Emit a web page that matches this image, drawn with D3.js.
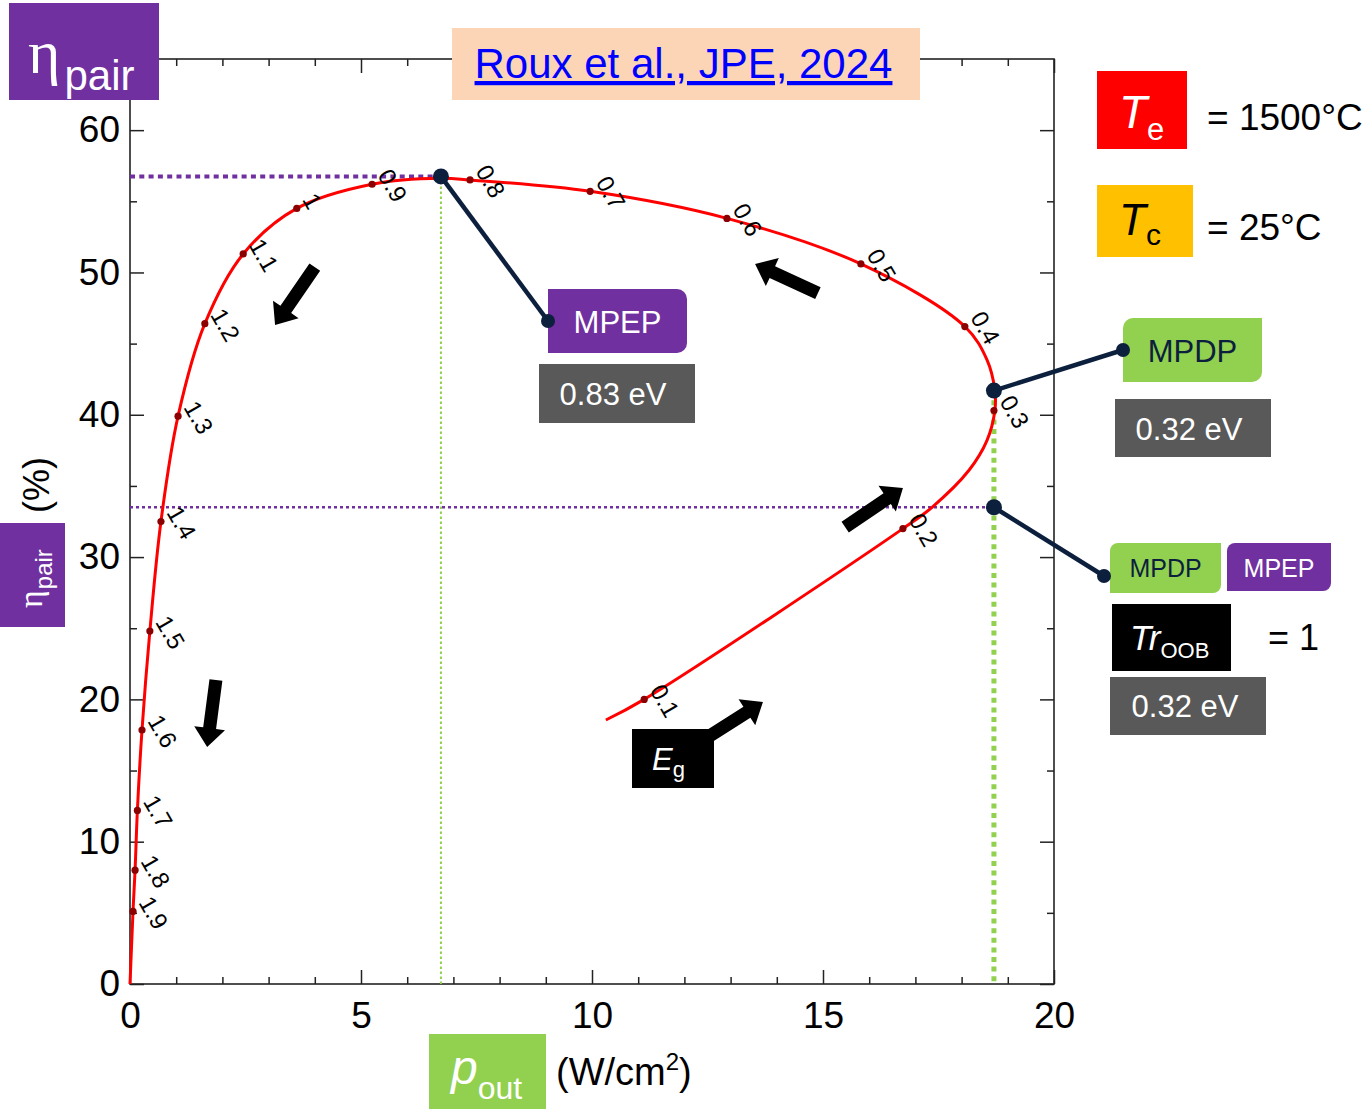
<!DOCTYPE html>
<html>
<head>
<meta charset="utf-8">
<script src="https://cdn.jsdelivr.net/npm/d3@7"></script>
<style>
  body { margin: 0; background: #fff; }
  svg { display: block; }
</style>
</head>
<body>
<svg id="chart" width="1368" height="1109"></svg>
<script>
// ---- data -------------------------------------------------------------
// band-gap energies (eV) marked along the curve, with their output power
// density (W/cm2) and pair efficiency (%)
const egLabels = ["1.9","1.8","1.7","1.6","1.5","1.4","1.3","1.2","1.1","1","0.9",
                  "0.8","0.7","0.6","0.5","0.4","0.3","0.2","0.1"];
const egPout = [0.065,0.11,0.16,0.26,0.43,0.67,1.04,1.62,2.45,3.61,5.24,
                7.36,9.96,12.92,15.82,18.07,18.70,16.73,11.13];
const egEta  = [5.1,8.0,12.2,17.85,24.8,32.5,39.9,46.4,51.3,54.5,56.2,
                56.5,55.7,53.8,50.6,46.2,40.3,32.0,20.0];

// full trace of the curve, from large Eg (origin) down to the smallest Eg
const curvePout = [0,0.03,0.065,0.11,0.16,0.26,0.43,0.67,1.04,1.62,2.45,3.61,5.24,
                   6.73,7.36,9.96,12.92,15.82,18.07,18.55,18.72,18.72,18.55,18.16,17.36,
                   16.73,11.13,10.30];
const curveEta  = [0,2.4,5.1,8.0,12.2,17.85,24.8,32.5,39.9,46.4,51.3,54.5,56.2,
                   56.62,56.5,55.7,53.8,50.6,46.2,43.85,41.7,40.3,38.2,36.1,33.5,
                   32.0,20.0,18.55];

// characteristic operating points
const mpep = { pout: 6.73, eta: 56.75, eg: "0.83 eV" };  // max pair efficiency
const mpdp = { pout: 18.70, eta: 41.7, eg: "0.32 eV" };  // max power density
const troob = { pout: 18.70, eta: 33.5, eg: "0.32 eV" }; // Tr_OOB = 1 case

// direction-of-decreasing-Eg arrows (tail -> tip, data units)
const arrowTail = [[4.00,50.38],[1.86,21.36],[14.89,48.55],[15.48,32.11],[12.34,17.0]];
const arrowTip  = [[3.14,46.30],[1.67,16.65],[13.53,50.59],[16.73,34.85],[13.70,19.81]];

// axis ticks
const xMajor = [0,5,10,15,20];
const xMinor = d3.range(0,21,1).filter(v => v % 5 !== 0);
const yMajor = [0,10,20,30,40,50,60];
const yMinor = [5,15,25,35,45,55];

// ---- setup ------------------------------------------------------------
const FONT = "'Liberation Sans', Arial, sans-serif";
const SERIF = "'Liberation Serif', 'DejaVu Serif', serif";
const PURPLE = "#7030A0", GREEN = "#92D050", GRAY = "#595959", NAVY = "#0C1F3D";

const svg = d3.select("#chart");
const x = d3.scaleLinear().domain([0,20]).range([130,1054]);
const y = d3.scaleLinear().domain([0,65]).range([984,59]);

// ---- frame & axes -----------------------------------------------------
const axes = svg.append("g").attr("class","axes");

function styleAxis(g, labels) {
  g.select(".domain").remove();
  g.selectAll("line").attr("stroke","#222").attr("stroke-width",1.5);
  g.selectAll("text").attr("font-family",FONT).attr("font-size",37).attr("fill","#000");
  if (!labels) g.selectAll("text").remove();
}

axes.append("g").attr("transform",`translate(0,${y(0)})`)
  .call(d3.axisBottom(x).tickValues(xMajor).tickSize(-14).tickSizeOuter(0).tickPadding(18))
  .call(g => styleAxis(g,true));
axes.append("g").attr("transform",`translate(0,${y(0)})`)
  .call(d3.axisBottom(x).tickValues(xMinor).tickSize(-7).tickSizeOuter(0).tickFormat(""))
  .call(g => styleAxis(g,false));
axes.append("g").attr("transform",`translate(0,${y(65)})`)
  .call(d3.axisTop(x).tickValues(xMajor).tickSize(-14).tickSizeOuter(0))
  .call(g => styleAxis(g,false));
axes.append("g").attr("transform",`translate(0,${y(65)})`)
  .call(d3.axisTop(x).tickValues(xMinor).tickSize(-7).tickSizeOuter(0))
  .call(g => styleAxis(g,false));

axes.append("g").attr("transform",`translate(${x(0)},0)`)
  .call(d3.axisLeft(y).tickValues(yMajor).tickSize(-14).tickSizeOuter(0).tickPadding(10))
  .call(g => styleAxis(g,true));
axes.append("g").attr("transform",`translate(${x(0)},0)`)
  .call(d3.axisLeft(y).tickValues(yMinor).tickSize(-7).tickSizeOuter(0))
  .call(g => styleAxis(g,false));
axes.append("g").attr("transform",`translate(${x(20)},0)`)
  .call(d3.axisRight(y).tickValues(yMajor).tickSize(-14).tickSizeOuter(0))
  .call(g => styleAxis(g,false));
axes.append("g").attr("transform",`translate(${x(20)},0)`)
  .call(d3.axisRight(y).tickValues(yMinor).tickSize(-7).tickSizeOuter(0))
  .call(g => styleAxis(g,false));

axes.append("rect")
  .attr("x",x(0)).attr("y",y(65))
  .attr("width",x(20)-x(0)).attr("height",y(0)-y(65))
  .attr("fill","none").attr("stroke","#222").attr("stroke-width",1.6);

// ---- guide lines ------------------------------------------------------
const guides = svg.append("g");
guides.append("line")   // MPEP efficiency level
  .attr("x1",x(0)).attr("x2",x(mpep.pout)).attr("y1",y(mpep.eta)).attr("y2",y(mpep.eta))
  .attr("stroke",PURPLE).attr("stroke-width",4).attr("stroke-dasharray","5,4.3");
guides.append("line")   // Tr_OOB efficiency level
  .attr("x1",x(0)).attr("x2",x(troob.pout)).attr("y1",y(troob.eta)).attr("y2",y(troob.eta))
  .attr("stroke",PURPLE).attr("stroke-width",2.5).attr("stroke-dasharray","3,3");
guides.append("line")   // MPEP power density
  .attr("x1",x(mpep.pout)).attr("x2",x(mpep.pout)).attr("y1",y(mpep.eta)).attr("y2",y(0))
  .attr("stroke",GREEN).attr("stroke-width",2).attr("stroke-dasharray","2.5,2.5");
guides.append("line")   // MPDP power density
  .attr("x1",x(mpdp.pout)).attr("x2",x(mpdp.pout)).attr("y1",y(mpdp.eta)).attr("y2",y(0))
  .attr("stroke",GREEN).attr("stroke-width",5).attr("stroke-dasharray","5,4.6");

// ---- curve ------------------------------------------------------------
const curvePts = curvePout.map((p,i) => [p, curveEta[i]]);
svg.append("path")
  .datum(curvePts)
  .attr("fill","none").attr("stroke","#FF0000").attr("stroke-width",3)
  .attr("d", d3.line().x(d => x(d[0])).y(d => y(d[1])).curve(d3.curveCatmullRom.alpha(0.5)));

const egPts = egLabels.map((l,i) => ({ label: l, pout: egPout[i], eta: egEta[i] }));
svg.append("g").selectAll("circle").data(egPts).join("circle")
  .attr("cx", d => x(d.pout)).attr("cy", d => y(d.eta)).attr("r",3.6)
  .attr("fill","#8B0000");

svg.append("g").selectAll("text").data(egPts).join("text")
  .attr("transform", d => `translate(${x(d.pout)+5},${y(d.eta)-9}) rotate(60)`)
  .attr("font-family",FONT).attr("font-size",24).attr("fill","#000")
  .text(d => d.label);

// ---- arrows -----------------------------------------------------------
function arrowPoly(t, p, sw, hw, hl) {
  const dx = p[0]-t[0], dy = p[1]-t[1], L = Math.hypot(dx,dy);
  const ux = dx/L, uy = dy/L, nx = -uy, ny = ux;
  const bx = p[0]-ux*hl, by = p[1]-uy*hl;
  return [
    [t[0]+nx*sw/2, t[1]+ny*sw/2], [bx+nx*sw/2, by+ny*sw/2], [bx+nx*hw/2, by+ny*hw/2],
    p, [bx-nx*hw/2, by-ny*hw/2], [bx-nx*sw/2, by-ny*sw/2], [t[0]-nx*sw/2, t[1]-ny*sw/2]
  ];
}
svg.append("g").selectAll("polygon").data(arrowTail.map((t,i) => [t, arrowTip[i]])).join("polygon")
  .attr("points", d => arrowPoly([x(d[0][0]),y(d[0][1])],[x(d[1][0]),y(d[1][1])],13,31,19).join(" "))
  .attr("fill","#000");

// ---- boxes helpers ----------------------------------------------------
function box(x0,y0,w,h,fill,r) {
  // r = [tl,tr,br,bl] corner radii
  r = r || [0,0,0,0];
  const p = d3.path();
  p.moveTo(x0+r[0],y0);
  p.lineTo(x0+w-r[1],y0); if (r[1]) p.arcTo(x0+w,y0,x0+w,y0+r[1],r[1]);
  p.lineTo(x0+w,y0+h-r[2]); if (r[2]) p.arcTo(x0+w,y0+h,x0+w-r[2],y0+h,r[2]);
  p.lineTo(x0+r[3],y0+h); if (r[3]) p.arcTo(x0,y0+h,x0,y0+h-r[3],r[3]);
  p.lineTo(x0,y0+r[0]); if (r[0]) p.arcTo(x0,y0,x0+r[0],y0,r[0]);
  p.closePath();
  return svg.append("path").attr("d",p.toString()).attr("fill",fill);
}
function label(tx,ty,str,size,color,anchor) {
  return svg.append("text").attr("x",tx).attr("y",ty)
    .attr("font-family",FONT).attr("font-size",size).attr("fill",color)
    .attr("text-anchor",anchor||"start").text(str);
}
function connector(px,py,ex,ey) {
  svg.append("line").attr("x1",px).attr("y1",py).attr("x2",ex).attr("y2",ey)
    .attr("stroke",NAVY).attr("stroke-width",4.5);
  svg.append("circle").attr("cx",px).attr("cy",py).attr("r",8).attr("fill",NAVY);
  svg.append("circle").attr("cx",ex).attr("cy",ey).attr("r",7).attr("fill",NAVY);
}

// ---- MPEP annotation --------------------------------------------------
box(548,289,139,64,PURPLE,[0,10,10,0]);
label(617.5,333,"MPEP",31,"#fff","middle");
box(539,364,156,59,GRAY);
label(613,405,mpep.eg,31,"#fff","middle");
connector(x(mpep.pout),y(mpep.eta),548,321);

// ---- MPDP annotation --------------------------------------------------
box(1123,318,139,64,GREEN,[10,0,10,0]);
label(1192.5,362,"MPDP",31,NAVY,"middle");
box(1115,399,156,58,GRAY);
label(1189,440,mpdp.eg,31,"#fff","middle");
connector(x(mpdp.pout),y(mpdp.eta),1123,350);

// ---- Tr_OOB = 1 annotation --------------------------------------------
box(1110,543,111,50,GREEN,[8,0,8,0]);
label(1165.5,577,"MPDP",25,NAVY,"middle");
box(1227,543,104,48,PURPLE,[8,0,8,0]);
label(1279,577,"MPEP",25,"#fff","middle");
box(1112,604,119,67,"#000");
const tr = svg.append("text").attr("x",1130).attr("y",650)
  .attr("font-family",FONT).attr("fill","#fff");
tr.append("tspan").attr("font-size",35).attr("font-style","italic").text("Tr");
tr.append("tspan").attr("font-size",22).attr("dy",8).text("OOB");
label(1268,650,"= 1",36,"#000");
box(1110,677,156,58,GRAY);
label(1185,717,troob.eg,31,"#fff","middle");
connector(x(troob.pout),y(troob.eta),1104,576);

// ---- Eg tag ------------------------------------------------------------
box(632,729,82,59,"#000");
const eg = svg.append("text").attr("x",652).attr("y",770)
  .attr("font-family",FONT).attr("fill","#fff");
eg.append("tspan").attr("font-size",31).attr("font-style","italic").text("E");
eg.append("tspan").attr("font-size",22).attr("dy",7).text("g");

// ---- temperature legend -----------------------------------------------
box(1097,71,90,78,"#FF0000");
const te = svg.append("text").attr("x",1119).attr("y",128)
  .attr("font-family",FONT).attr("fill","#fff");
te.append("tspan").attr("font-size",46).attr("font-style","italic").text("T");
te.append("tspan").attr("font-size",31).attr("dy",12).text("e");
label(1207,130,"= 1500°C",37,"#000");

box(1097,185,96,72,"#FFC000");
const tc = svg.append("text").attr("x",1119).attr("y",235)
  .attr("font-family",FONT).attr("fill","#000");
tc.append("tspan").attr("font-size",44).attr("font-style","italic").text("T");
tc.append("tspan").attr("font-size",30).attr("dy",10).text("c");
label(1207,240,"= 25°C",37,"#000");

// ---- reference title ---------------------------------------------------
box(452,28,468,72,"#FBD5B5");
label(683.5,78,"Roux et al., JPE, 2024",42,"#0000FF","middle")
  .attr("text-decoration","underline");

// ---- axis titles ------------------------------------------------------
box(9,3,150,97,PURPLE);
const et = svg.append("text").attr("x",28).attr("y",73).attr("fill","#fff");
et.append("tspan").attr("font-family",SERIF).attr("font-size",62).text("η");
et.append("tspan").attr("font-family",FONT).attr("font-size",42).attr("dy",17).attr("dx",4).text("pair");

box(0,523,65,104,PURPLE);
const ey = svg.append("text").attr("transform","translate(42,608) rotate(-90)").attr("fill","#fff");
ey.append("tspan").attr("font-family",SERIF).attr("font-size",34).text("η");
ey.append("tspan").attr("font-family",FONT).attr("font-size",24).attr("dy",10).attr("dx",1).text("pair");
svg.append("text").attr("transform","translate(49,485) rotate(-90)")
  .attr("font-family",FONT).attr("font-size",36).attr("text-anchor","middle").attr("fill","#000")
  .text("(%)");

box(429,1034,117,75,GREEN);
const px = svg.append("text").attr("x",451).attr("y",1084)
  .attr("font-family",FONT).attr("fill","#fff");
px.append("tspan").attr("font-size",48).attr("font-style","italic").text("p");
px.append("tspan").attr("font-size",32).attr("dy",15).text("out");
const unit = svg.append("text").attr("x",556).attr("y",1085)
  .attr("font-family",FONT).attr("font-size",38).attr("fill","#000");
unit.append("tspan").text("(W/cm");
unit.append("tspan").attr("font-size",24).attr("dy",-15).text("2");
unit.append("tspan").attr("dy",15).text(")");
</script>
</body>
</html>
